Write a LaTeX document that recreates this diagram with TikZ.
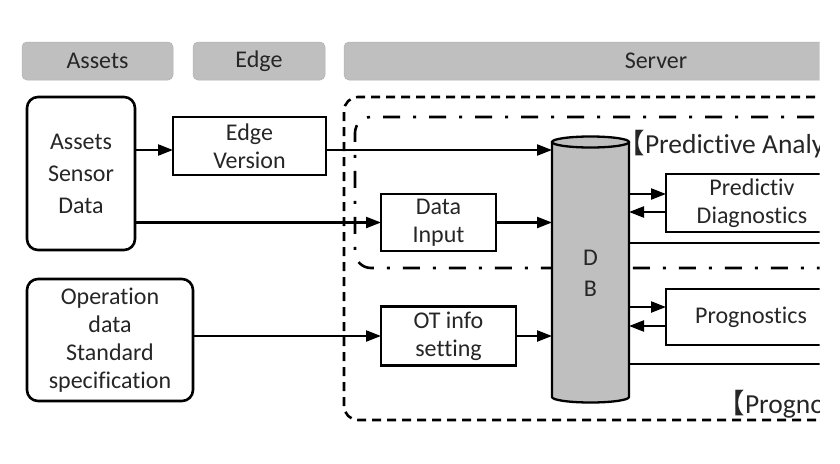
\documentclass[tikz,border=0pt]{standalone}
\usepackage{fontspec}
\setmainfont{Carlito}[Ligatures={NoCommon}]
\newfontfamily\cjk{Noto Sans CJK SC}
\usetikzlibrary{arrows.meta,calc,positioning}
\definecolor{bargray}{RGB}{191,191,191}
\definecolor{txtgray}{RGB}{38,38,38}

\begin{document}
\begin{tikzpicture}[x=1pt,y=-1pt,>={Triangle[length=15pt,width=11pt]},
  every node/.style={font=\fontsize{24}{28}\selectfont,text=txtgray,outer sep=0pt},
  hdr/.style={draw=black!30,line width=0.5pt,fill=bargray,rounded corners=5pt,minimum height=38pt},
  blk/.style={draw=black,line width=2.3pt,align=center,inner sep=0pt},
  rblk/.style={blk,line width=2.6pt,rounded corners=11pt},
  arr/.style={->,line width=2.3pt},
  wire/.style={line width=2.3pt},
  tag/.style={anchor=base west,inner sep=0pt,font=\fontsize{27.5}{30}\selectfont}]
  \useasboundingbox[fill=white] (0,0) rectangle (840,463);
  \clip (0,0) rectangle (819.5,463);
  \draw[line width=2.6pt,dash pattern=on 9pt off 6pt,rounded corners=14pt] (860,97) -- (344,97) -- (344,420) -- (860,420);
  \draw[line width=2.6pt,dash pattern=on 17pt off 13pt on 3pt off 13pt,rounded corners=16pt] (860,117) -- (355,117) -- (355,268) -- (860,268);

  \node[hdr,minimum width=151pt] (hassets) at (97.5,61) {Assets};
  \node[hdr,minimum width=132pt] (hedge) at (259,61) {Edge};
  \node[hdr,minimum width=624pt] (hserver) at (656,61) {Server};

  \node[rblk,minimum width=108pt,minimum height=153pt,font=\fontsize{24}{32}\selectfont] (assets) at (81,173.5) {Assets\\Sensor\\Data};
  \node[blk,minimum width=153pt,minimum height=58pt] (edgev) at (249.5,146) {Edge\\Version};
  \node[blk,minimum width=115pt,minimum height=57pt] (din) at (438.5,222.5) {Data\\Input};
  \node[rblk,minimum width=166pt,minimum height=122pt] (opdata) at (110,340) {Operation\\data\\Standard\\specification};
  \node[blk,minimum width=135pt,minimum height=59pt] (otset) at (448.5,336) {OT info\\setting};

  \filldraw[fill=bargray,line width=2.3pt] (552,142) -- (552,397) arc[start angle=180,end angle=360,x radius=38.5pt,y radius=5.5pt] -- (629,142);
  \filldraw[fill=bargray,line width=2.3pt] (590.5,142) ellipse[x radius=38.5pt,y radius=5.5pt];
  \node[minimum width=77pt,minimum height=260pt,align=center,font=\fontsize{24}{31}\selectfont] (db) at (590.5,273) {D\\B};

  \node[blk,minimum width=172pt,minimum height=58pt] (pdiag) at (752,203) {Predictiv\\Diagnostics};
  \node[blk,minimum width=170pt,minimum height=56pt] (prog) at (751,317) {Prognostics};
  \coordinate (pdend) at (860,243);
  \coordinate (pgend) at (860,364);

  \draw[arr] ($(assets.east |- edgev.west)+(0,4)$) -- ($(edgev.west)+(0,4)$);
  \draw[arr] ($(edgev.east)+(0,4)$) -- ($(edgev.east -| db.west)+(0,4)$);
  \draw[arr] (assets.east |- din.west) -- (din.west);
  \draw[arr] (din.east) -- (din.east -| db.west);
  \draw[arr] (opdata.east |- otset.west) -- (otset.west);
  \draw[arr] (otset.east) -- (otset.east -| db.west);
  \draw[arr] ($(db.east |- pdiag.west)+(0,-9)$) -- ($(pdiag.west)+(0,-9)$);
  \draw[arr] ($(pdiag.west)+(0,9)$) -- ($(db.east |- pdiag.west)+(0,9)$);
  \draw[wire] (db.east |- pdend) -- (pdend);
  \draw[arr] ($(db.east |- prog.west)+(0,-10)$) -- ($(prog.west)+(0,-10)$);
  \draw[arr] ($(prog.west)+(0,9)$) -- ($(db.east |- prog.west)+(0,9)$);
  \draw[wire] (db.east |- pgend) -- (pgend);

  \node[tag] (lblpa) at (617.5,153) {{\cjk 【}Predictive Analysis};
  \node[tag] (lblpg) at (717.5,413) {{\cjk 【}Prognostics};
\end{tikzpicture}
\end{document}
